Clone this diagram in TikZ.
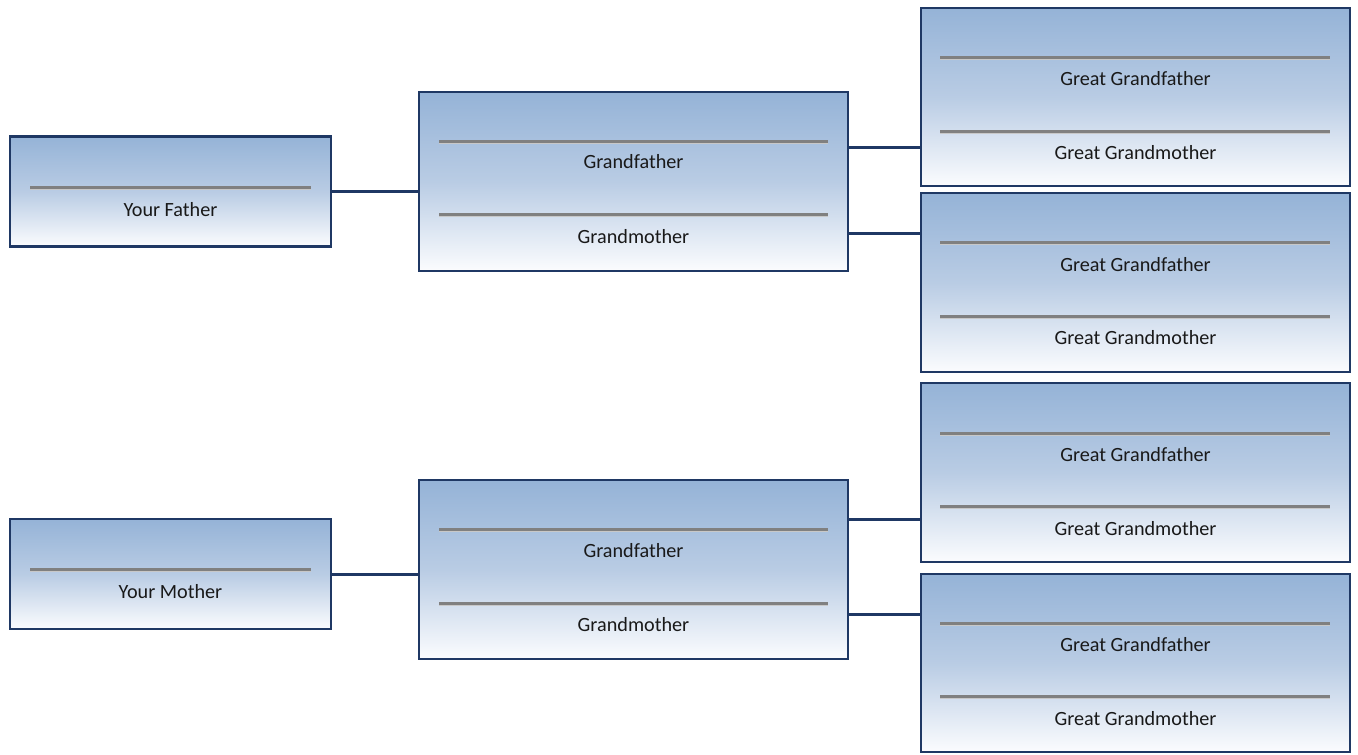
\documentclass[tikz,border=0pt]{standalone}
\usepackage{fontspec}
\setmainfont{Carlito}
\usetikzlibrary{calc}
\definecolor{navy}{HTML}{1F3864}
\definecolor{topblue}{HTML}{95B3D7}
\definecolor{midblue}{HTML}{B9CCE4}
\definecolor{botwhite}{HTML}{FBFCFE}
\definecolor{sepgray}{HTML}{808080}
\definecolor{seplight}{HTML}{C8C8C8}
\tikzset{
  box/.style={draw=navy, line width=2.8pt, rectangle, top color=topblue, bottom color=botwhite, middle color=midblue, inner sep=0pt},
  lbl/.style={font=\fontsize{20.2}{24}\selectfont, text=black!90, inner sep=0pt},
  sep/.style={draw=sepgray, line width=3pt},
  sepl/.style={draw=seplight, line width=1pt},
  conn/.style={draw=navy, line width=3pt}
}
\newcommand{\sepline}[3]{%
  \draw[sep] (#1,#3) -- (#2,#3);
  \draw[sepl] (#1,#3+2) -- (#2,#3+2);
}
\begin{document}
\begin{tikzpicture}[x=1pt,y=-1pt]
\useasboundingbox (0,0) rectangle (1358,755);
% level 1
\node[box, minimum width=321pt, minimum height=110pt] (fa) at (170.5,191.5) {};
\node[box, minimum width=321pt, minimum height=110pt] (mo) at (170.5,574) {};
% level 2
\node[box, minimum width=429pt, minimum height=179pt] (ga) at (633.5,181.5) {};
\node[box, minimum width=429pt, minimum height=179pt] (gb) at (633.5,569.5) {};
% level 3
\node[box, minimum width=429pt, minimum height=178pt] (g1) at (1135.5,97) {};
\node[box, minimum width=429pt, minimum height=179pt] (g2) at (1135.5,282.5) {};
\node[box, minimum width=429pt, minimum height=179pt] (g3) at (1135.5,472.5) {};
\node[box, minimum width=429pt, minimum height=178pt] (g4) at (1135.5,663) {};

% separators
\sepline{30}{311}{187}
\sepline{30}{311}{569}
\sepline{439}{828}{141}
\sepline{439}{828}{214}
\sepline{439}{828}{529}
\sepline{439}{828}{603}
\sepline{940}{1330}{57}
\sepline{940}{1330}{131}
\sepline{940}{1330}{242}
\sepline{940}{1330}{316}
\sepline{940}{1330}{433}
\sepline{940}{1330}{506}
\sepline{940}{1330}{623}
\sepline{940}{1330}{696}

% labels
\node[lbl] (tfa) at (170.5,210) {Your Father};
\node[lbl] (tmo) at (170.5,592) {Your Mother};
\node[lbl] (tga1) at (633.5,162) {Grandfather};
\node[lbl] (tga2) at (633.5,237) {Grandmother};
\node[lbl] (tgb1) at (633.5,551) {Grandfather};
\node[lbl] (tgb2) at (633.5,625) {Grandmother};
\node[lbl] (t11) at (1135.5,79) {Great Grandfather};
\node[lbl] (t12) at (1135.5,153) {Great Grandmother};
\node[lbl] (t21) at (1135.5,265) {Great Grandfather};
\node[lbl] (t22) at (1135.5,338) {Great Grandmother};
\node[lbl] (t31) at (1135.5,455) {Great Grandfather};
\node[lbl] (t32) at (1135.5,529) {Great Grandmother};
\node[lbl] (t41) at (1135.5,645) {Great Grandfather};
\node[lbl] (t42) at (1135.5,719) {Great Grandmother};

% connectors
\coordinate (c0) at (fa.east);
\draw[conn] (c0) -- (c0 -| ga.west);
\coordinate (c0b) at (mo.east);
\draw[conn] (c0b) -- (c0b -| gb.west);
\coordinate (c1) at ([yshift=34.5pt]ga.east);
\draw[conn] (c1) -- (c1 -| g1.west);
\coordinate (c2) at ([yshift=-51.5pt]ga.east);
\draw[conn] (c2) -- (c2 -| g2.west);
\coordinate (c3) at ([yshift=50.5pt]gb.east);
\draw[conn] (c3) -- (c3 -| g3.west);
\coordinate (c4) at ([yshift=-44.5pt]gb.east);
\draw[conn] (c4) -- (c4 -| g4.west);
\end{tikzpicture}
\end{document}
